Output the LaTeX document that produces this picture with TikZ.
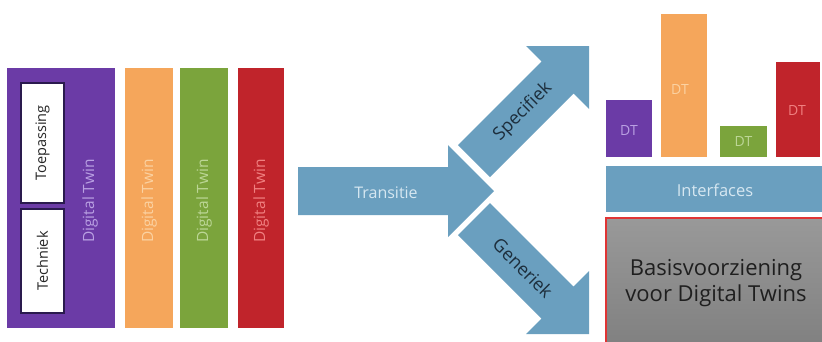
\documentclass[tikz,border=0pt]{standalone}
\usepackage{fontspec}
\setmainfont{Open Sans}
\definecolor{dtpurple}{HTML}{6B3BA6}
\definecolor{dtpurpletxt}{HTML}{B9A0E2}
\definecolor{dtorange}{HTML}{F5A65B}
\definecolor{dtorangetxt}{HTML}{FBD2A2}
\definecolor{dtgreen}{HTML}{7BA43C}
\definecolor{dtgreentxt}{HTML}{BCD696}
\definecolor{dtred}{HTML}{C0242B}
\definecolor{dtredtxt}{HTML}{F08080}
\definecolor{dtblue}{HTML}{6A9FBF}
\definecolor{dtbluetxt}{HTML}{D6E7F1}
\definecolor{dtnavy}{HTML}{1D2E3C}
\definecolor{dtborder}{HTML}{2A1A4E}
\definecolor{dtbasisred}{HTML}{E03434}
\begin{document}
\begin{tikzpicture}[x=1pt,y=-1pt,
  block/.style={inner sep=0pt, outer sep=0pt},
  bartext/.style={rotate=90, font=\fontsize{15.5}{17}\selectfont, inner sep=0pt},
  subtext/.style={rotate=90, font=\fontsize{14.5}{17}\selectfont, inner sep=0pt, text=black!85},
  subbox/.style={block, fill=white, draw=dtborder, line width=1.5pt},
  arrowfill/.style={fill=dtblue},
  dtlabel/.style={font=\fontsize{14}{16}\selectfont, inner sep=0pt}
]
\useasboundingbox (0,0) rectangle (822,341);
\clip (0,0) rectangle (822,341);

% left panel bars
\node[block, fill=dtpurple, minimum width=108pt, minimum height=260pt] (pbar) at (61,198) {};
\node[subbox, minimum width=43pt, minimum height=120pt] (toep) at (42.5,143) {};
\node[subbox, minimum width=43pt, minimum height=104pt] (tech) at (42.5,261) {};
\node[subtext] (toeptxt) at (toep.center) {Toepassing};
\node[subtext] (techtxt) at (tech.center) {Techniek};
\node[bartext, text=dtpurpletxt] (ptxt) at (90,201) {Digital Twin};

\node[block, fill=dtorange, minimum width=48pt, minimum height=260pt] (obar) at (149,198) {};
\node[bartext, text=dtorangetxt] (otxt) at (149,201) {Digital Twin};
\node[block, fill=dtgreen, minimum width=48pt, minimum height=260pt] (gbar) at (204,198) {};
\node[bartext, text=dtgreentxt] (gtxt) at (204,201) {Digital Twin};
\node[block, fill=dtred, minimum width=46pt, minimum height=260pt] (rbar) at (261,198) {};
\node[bartext, text=dtredtxt] (rtxt) at (261,201) {Digital Twin};

% arrows
\fill[arrowfill] (298,167) -- (448,167) -- (448,145) -- (494,191) -- (448,237) -- (448,215) -- (298,215) -- cycle;
\node[font=\fontsize{16}{18}\selectfont, text=dtbluetxt, inner sep=0pt] (trans) at (386,193) {Transitie};

\fill[arrowfill] (458,145) -- (541.5,61.5) -- (526,46) -- (589,46) -- (589,109) -- (573.5,93.5) -- (490,177) -- cycle;
\node[font=\fontsize{18}{20}\selectfont, text=dtnavy, rotate=45, inner sep=0pt] (spec) at (523,112) {Specifiek};

\fill[arrowfill] (458,235) -- (541.5,318.5) -- (526,334) -- (589,334) -- (589,271) -- (573.5,286.5) -- (490,203) -- cycle;
\node[font=\fontsize{18}{20}\selectfont, text=dtnavy, rotate=-45, inner sep=0pt] (gen) at (523,268) {Generiek};

% right panel
\node[block, fill=dtpurple, minimum width=46pt, minimum height=57pt] (dt1) at (629,128.5) {};
\node[dtlabel, text=dtpurpletxt] (dt1t) at (629,130) {DT};
\node[block, fill=dtorange, minimum width=46pt, minimum height=143pt] (dt2) at (684,85.5) {};
\node[dtlabel, text=dtorangetxt] (dt2t) at (680,89) {DT};
\node[block, fill=dtgreen, minimum width=47pt, minimum height=31pt] (dt3) at (743.5,141.5) {};
\node[dtlabel, text=dtgreentxt] (dt3t) at (743.5,141) {DT};
\node[block, fill=dtred, minimum width=44pt, minimum height=95pt] (dt4) at (798,109.5) {};
\node[dtlabel, text=dtredtxt] (dt4t) at (797,110) {DT};

\node[block, fill=dtblue, minimum width=220pt, minimum height=46pt, anchor=north west] (intf) at (606,166) {};
\node[font=\fontsize{16.5}{18}\selectfont, text=dtbluetxt, inner sep=0pt] (intft) at (715,190) {Interfaces};

\shade[top color=black!40, bottom color=black!50] (606,218) rectangle (830,350);
\draw[dtbasisred, line width=2.5pt] (606,350) -- (606,218) -- (830,218);
\node[font=\fontsize{22}{26}\selectfont, text=black!88, align=center, inner sep=0pt] (basis) at (716,283) {Basisvoorziening\\voor Digital Twins};
\end{tikzpicture}
\end{document}
